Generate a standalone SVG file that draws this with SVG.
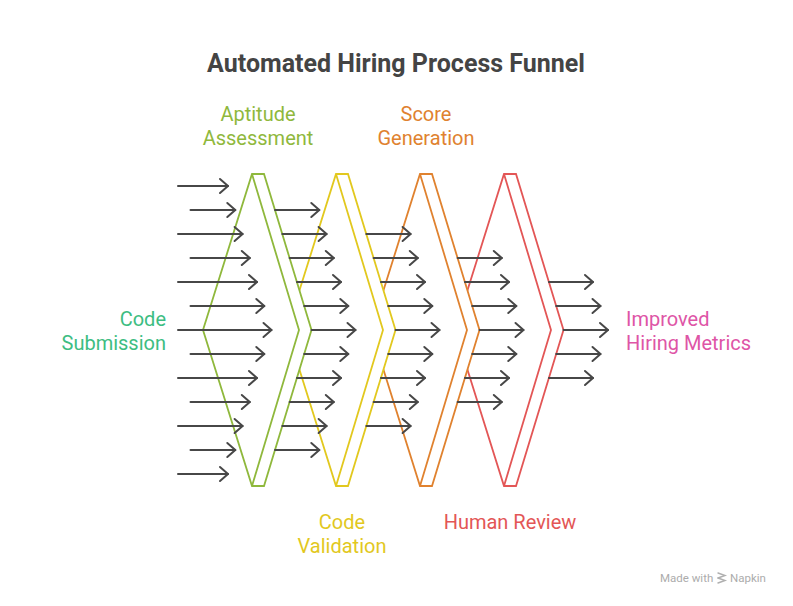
<svg xmlns="http://www.w3.org/2000/svg" width="793" height="606" viewBox="0 0 793 606">
<defs>
<style>
.stage{fill:#ffffff;stroke-width:1.8;stroke-linejoin:miter}
.inner{fill:none;stroke-width:1.8}
.arr{stroke:#474747;stroke-width:2;fill:none;stroke-linecap:round;marker-end:url(#ah)}
.lbl{font-family:Roboto,"Liberation Sans",Arial,sans-serif;font-size:20px}
.title{font-family:Roboto,"Liberation Sans",Arial,sans-serif;font-size:25px;font-weight:bold;fill:#444444}
.foot{font-family:Roboto,"Liberation Sans",Arial,sans-serif;font-size:11.5px;fill:#acacac}
</style>
<marker id="ah" markerUnits="userSpaceOnUse" viewBox="-10 -10 20 20" markerWidth="20" markerHeight="20" refX="0" refY="0" orient="auto" overflow="visible">
<path d="M-8,-7 L0,0 L-8,7" fill="none" stroke="#474747" stroke-width="2" stroke-linecap="round" stroke-linejoin="round"/>
</marker>
</defs>
<rect width="793" height="606" fill="#ffffff"/>
<text class="title" x="396" y="72" text-anchor="middle">Automated Hiring Process Funnel</text>

<g id="stage-human-review">
<polygon class="stage" stroke="#e35656" points="455,330 504,174 516,174 563.5,330 516,486 504,486"/>
<polyline class="inner" stroke="#e35656" points="504,174 551,330 504,486"/>
</g>
<g id="stage-score-generation">
<polygon class="stage" stroke="#e0822f" points="371,330 420,174 432,174 479.5,330 432,486 420,486"/>
<polyline class="inner" stroke="#e0822f" points="420,174 467,330 420,486"/>
</g>
<g id="stage-code-validation">
<polygon class="stage" stroke="#e2c81e" points="287,330 336,174 348,174 395.5,330 348,486 336,486"/>
<polyline class="inner" stroke="#e2c81e" points="336,174 383,330 336,486"/>
</g>
<g id="stage-aptitude-assessment">
<polygon class="stage" stroke="#8fb83c" points="203,330 252,174 264,174 311.5,330 264,486 252,486"/>
<polyline class="inner" stroke="#8fb83c" points="252,174 299,330 252,486"/>
</g>

<g id="connectors">
<line class="arr" x1="178" y1="186" x2="228" y2="186"/>
<line class="arr" x1="190.5" y1="210" x2="235.3" y2="210"/>
<line class="arr" x1="178" y1="234" x2="242.6" y2="234"/>
<line class="arr" x1="190.5" y1="258" x2="249.8" y2="258"/>
<line class="arr" x1="178" y1="282" x2="257" y2="282"/>
<line class="arr" x1="190.5" y1="306" x2="264.3" y2="306"/>
<line class="arr" x1="178" y1="330" x2="271.5" y2="330"/>
<line class="arr" x1="190.5" y1="354" x2="264.3" y2="354"/>
<line class="arr" x1="178" y1="378" x2="257" y2="378"/>
<line class="arr" x1="190.5" y1="402" x2="249.8" y2="402"/>
<line class="arr" x1="178" y1="426" x2="242.6" y2="426"/>
<line class="arr" x1="190.5" y1="450" x2="235.3" y2="450"/>
<line class="arr" x1="178" y1="474" x2="228" y2="474"/>
<line class="arr" x1="275" y1="210" x2="319.3" y2="210"/>
<line class="arr" x1="282.3" y1="234" x2="326.6" y2="234"/>
<line class="arr" x1="289.6" y1="258" x2="333.8" y2="258"/>
<line class="arr" x1="296.9" y1="282" x2="341" y2="282"/>
<line class="arr" x1="304.2" y1="306" x2="348.3" y2="306"/>
<line class="arr" x1="311.5" y1="330" x2="355.5" y2="330"/>
<line class="arr" x1="304.2" y1="354" x2="348.3" y2="354"/>
<line class="arr" x1="296.9" y1="378" x2="341" y2="378"/>
<line class="arr" x1="289.6" y1="402" x2="333.8" y2="402"/>
<line class="arr" x1="282.3" y1="426" x2="326.6" y2="426"/>
<line class="arr" x1="275" y1="450" x2="319.3" y2="450"/>
<line class="arr" x1="366.3" y1="234" x2="410.6" y2="234"/>
<line class="arr" x1="373.6" y1="258" x2="417.8" y2="258"/>
<line class="arr" x1="380.9" y1="282" x2="425" y2="282"/>
<line class="arr" x1="388.2" y1="306" x2="432.3" y2="306"/>
<line class="arr" x1="395.5" y1="330" x2="439.5" y2="330"/>
<line class="arr" x1="388.2" y1="354" x2="432.3" y2="354"/>
<line class="arr" x1="380.9" y1="378" x2="425" y2="378"/>
<line class="arr" x1="373.6" y1="402" x2="417.8" y2="402"/>
<line class="arr" x1="366.3" y1="426" x2="410.6" y2="426"/>
<line class="arr" x1="457.6" y1="258" x2="501.8" y2="258"/>
<line class="arr" x1="464.9" y1="282" x2="509" y2="282"/>
<line class="arr" x1="472.2" y1="306" x2="516.3" y2="306"/>
<line class="arr" x1="479.5" y1="330" x2="523.5" y2="330"/>
<line class="arr" x1="472.2" y1="354" x2="516.3" y2="354"/>
<line class="arr" x1="464.9" y1="378" x2="509" y2="378"/>
<line class="arr" x1="457.6" y1="402" x2="501.8" y2="402"/>
<line class="arr" x1="548.9" y1="282" x2="593" y2="282"/>
<line class="arr" x1="556.2" y1="306" x2="600.5" y2="306"/>
<line class="arr" x1="563.5" y1="330" x2="608" y2="330"/>
<line class="arr" x1="556.2" y1="354" x2="600.5" y2="354"/>
<line class="arr" x1="548.9" y1="378" x2="593" y2="378"/>
</g>

<g id="label-code-submission">
<text class="lbl" fill="#3dbd82" x="166" y="326" text-anchor="end">Code</text>
<text class="lbl" fill="#3dbd82" x="166" y="350" text-anchor="end">Submission</text>
</g>
<g id="label-aptitude-assessment">
<text class="lbl" fill="#8fb83c" x="258" y="121" text-anchor="middle">Aptitude</text>
<text class="lbl" fill="#8fb83c" x="258" y="145" text-anchor="middle">Assessment</text>
</g>
<g id="label-score-generation">
<text class="lbl" fill="#e0822f" x="426" y="121" text-anchor="middle">Score</text>
<text class="lbl" fill="#e0822f" x="426" y="145" text-anchor="middle">Generation</text>
</g>
<g id="label-code-validation">
<text class="lbl" fill="#e2c81e" x="342" y="529" text-anchor="middle">Code</text>
<text class="lbl" fill="#e2c81e" x="342" y="553" text-anchor="middle">Validation</text>
</g>
<g id="label-human-review">
<text class="lbl" fill="#e35656" x="510" y="529" text-anchor="middle">Human Review</text>
</g>
<g id="label-improved-hiring-metrics">
<text class="lbl" fill="#de55a6" x="626" y="326">Improved</text>
<text class="lbl" fill="#de55a6" x="626" y="350">Hiring Metrics</text>
</g>

<g id="footer">
<text class="foot" x="660" y="582">Made with</text>
<g stroke="#b0b0b0" stroke-width="1.4" fill="none" stroke-linecap="round">
<path d="M718,573 L725,575.5 L718,578"/>
<path d="M718,578 L725,580.5 L718,583"/>
</g>
<text class="foot" x="730" y="582">Napkin</text>
</g>
</svg>
